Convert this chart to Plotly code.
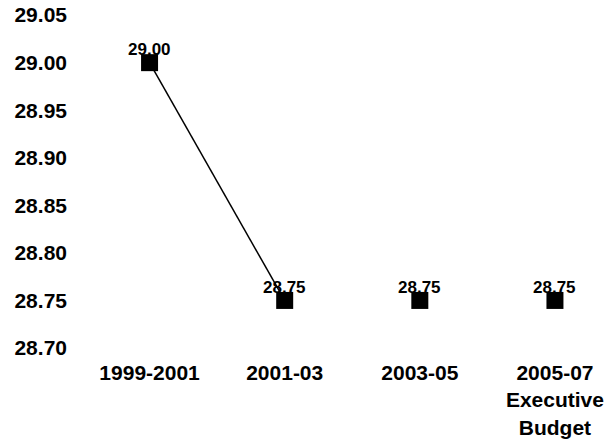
import plotly.graph_objects as go

categories = ["1999-2001", "2001-03", "2003-05", "2005-07<br>Executive<br>Budget"]
values = [29.00, 28.75, 28.75, 28.75]
value_labels = ["29.00", "28.75", "28.75", "28.75"]
tick_vals = [28.70, 28.75, 28.80, 28.85, 28.90, 28.95, 29.00, 29.05]
tick_text = ["28.70", "28.75", "28.80", "28.85", "28.90", "28.95", "29.00", "29.05"]
line_segment = 2  # line drawn only between first two points

FONT = "Liberation Sans, Arial, sans-serif"

fig = go.Figure()
fig.add_trace(go.Scatter(
    x=categories[:line_segment], y=values[:line_segment], mode="lines",
    line=dict(color="black", width=1.5), hoverinfo="skip", showlegend=False))
fig.add_trace(go.Scatter(
    x=categories, y=values, mode="markers",
    marker=dict(symbol="square", size=17, color="black"), showlegend=False))

for c, v, t in zip(categories, values, value_labels):
    fig.add_annotation(x=c, y=v, text=t, showarrow=False, yshift=13,
                       font=dict(family=FONT, size=17, color="black", weight="bold"))

fig.update_layout(
    width=614, height=446,
    margin=dict(l=82, r=5, t=15, b=98),
    plot_bgcolor="white", paper_bgcolor="white",
    font=dict(family=FONT, size=21, color="black", weight="bold"),
    xaxis=dict(type="category", range=[-0.5, 3.4], showgrid=False, zeroline=False,
               showline=False, ticks="", ticklabelstandoff=10, automargin=False,
               tickfont=dict(family=FONT, size=21, weight="bold")),
    yaxis=dict(range=[28.70, 29.0501], tickvals=tick_vals, ticktext=tick_text,
               showgrid=False, zeroline=False, showline=False, ticks="",
               ticklabelstandoff=14, ticklabeloverflow="allow", automargin=False,
               tickfont=dict(family=FONT, size=21, weight="bold")),
)

fig.write_html("out.html", config={"displayModeBar": False},
               post_script="document.body.style.margin='0';")
